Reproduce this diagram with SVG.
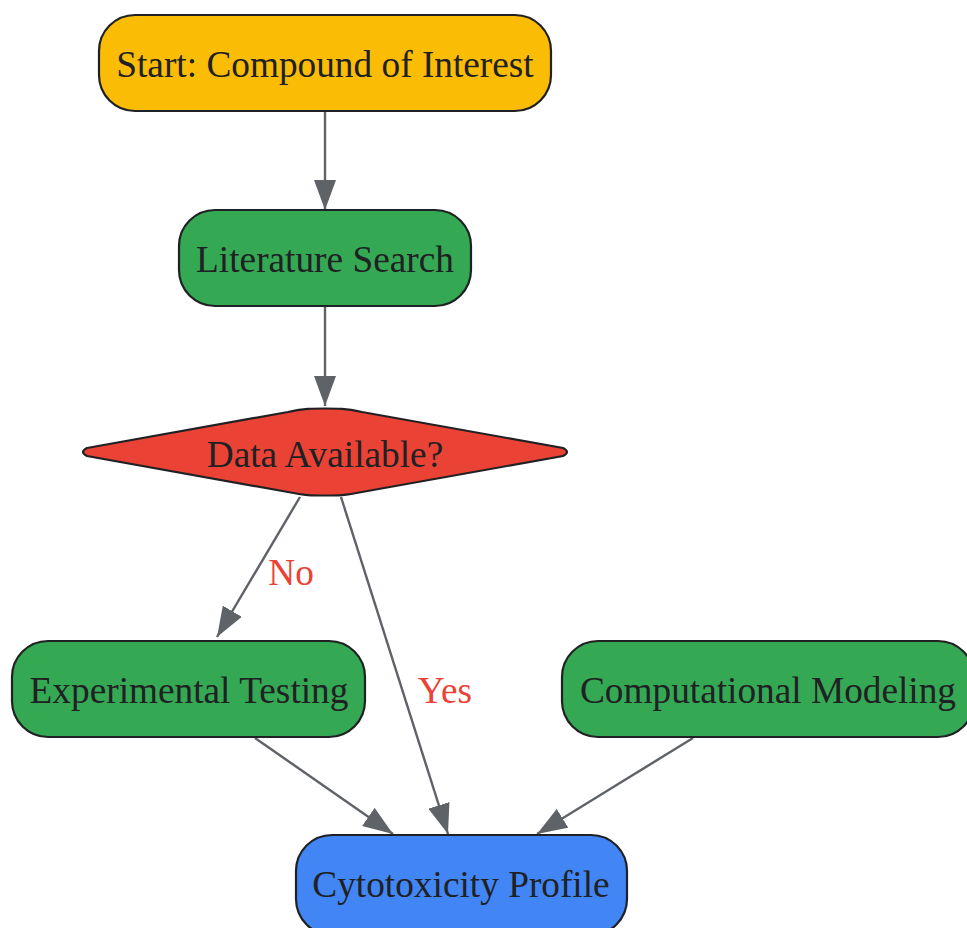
<svg xmlns="http://www.w3.org/2000/svg" width="967" height="928" viewBox="0 0 967 928">
<defs>
<style>
.node{stroke:#202124;stroke-width:2.2}
.lbl{font-family:"Liberation Serif","Times New Roman",serif;font-size:37.3px;fill:#202124;text-anchor:middle}
.elbl{font-family:"Liberation Serif","Times New Roman",serif;font-size:37.3px;fill:#EA4335;text-anchor:middle}
.edge{stroke:#5F6368;stroke-width:2.4;fill:none;marker-end:url(#arr)}
</style>
<marker id="arr" viewBox="0 0 30 22" refX="30" refY="11" markerWidth="30" markerHeight="22" markerUnits="userSpaceOnUse" orient="auto">
<path d="M0,0 L30,11 L0,22 Z" fill="#5F6368"/>
</marker>
</defs>
<rect width="967" height="928" fill="#ffffff"/>
<g id="connectors">
<path class="edge" d="M325,111 L325,210"/>
<path class="edge" d="M325,306 L325,406"/>
<path class="edge" d="M300,497 L217,637"/>
<path class="edge" d="M341,497 L448,834"/>
<path class="edge" d="M255,738 L393,834"/>
<path class="edge" d="M693,738 L537,834"/>
<text class="elbl" x="291" y="585">No</text>
<text class="elbl" x="445" y="703">Yes</text>
</g>
<g id="start">
<rect class="node" x="99" y="15" width="452" height="96" rx="36" fill="#FBBC05"/>
<text class="lbl" x="325" y="77">Start: Compound of Interest</text>
</g>
<g id="literature">
<rect class="node" x="179" y="210" width="292" height="96" rx="36" fill="#34A853"/>
<text class="lbl" x="325" y="272">Literature Search</text>
</g>
<g id="decision">
<path class="node" d="M87,448 L288,412 C305,408.5 312,408.5 325,408.5 C338,408.5 345,408.5 362,412 L563,448 Q571,452 563,456 L362,492 C345,495.5 338,495.5 325,495.5 C312,495.5 305,495.5 288,492 L87,456 Q79,452 87,448 Z" fill="#EA4335"/>
<text class="lbl" x="325" y="467">Data Available?</text>
</g>
<g id="experimental">
<rect class="node" x="12" y="641" width="353" height="96" rx="36" fill="#34A853"/>
<text class="lbl" x="189" y="703">Experimental Testing</text>
</g>
<g id="computational">
<rect class="node" x="562" y="641" width="412" height="96" rx="36" fill="#34A853"/>
<text class="lbl" x="768" y="703">Computational Modeling</text>
</g>
<g id="cytotoxicity">
<rect class="node" x="296" y="835" width="331" height="100" rx="36" fill="#4285F4"/>
<text class="lbl" x="461" y="897">Cytotoxicity Profile</text>
</g>
</svg>
